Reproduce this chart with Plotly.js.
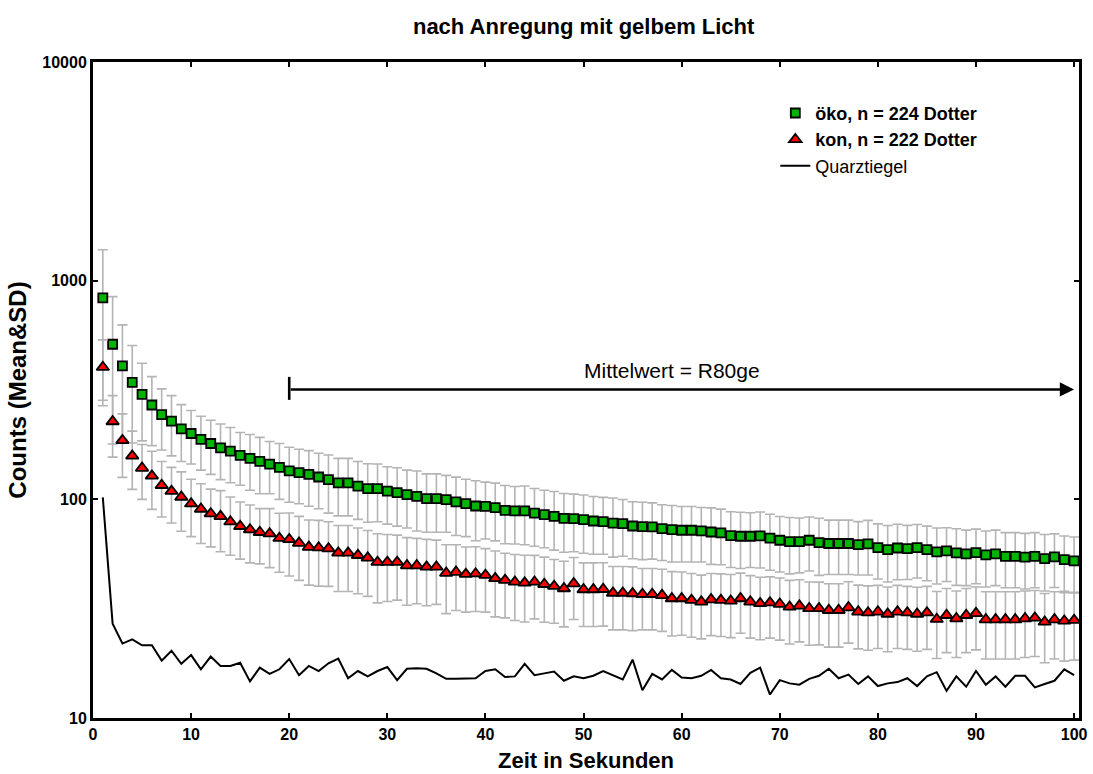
<!DOCTYPE html>
<html>
<head>
<meta charset="utf-8">
<script src="https://cdn.plot.ly/plotly-3.0.1.min.js"></script>
<style>html,body{margin:0;padding:0;background:#fff;}#chart{width:1093px;height:774px;}</style>
</head>
<body>
<div id="chart"></div>
<script>
// time points (seconds)
const zeit = Array.from({length: 100}, (_, i) => i + 1);

// öko, n = 224 Dotter: mean counts
const oekoMean = [834,512,408,343,302,270,244,228,210,200,
  188,180,172,166,159,154,149,145,140,135,
  132.5,130,126.5,123,119,119,115,112,112,109,
  107.4,105,103.2,100.7,100.7,99.7,97.3,95.5,93.2,92.9,
  91.6,89.1,88.5,88.5,86.5,85.1,83.6,81.8,81.6,80.7,
  79.6,79.1,77.9,77.4,75.5,75,74.8,73.5,72.7,72.2,
  72.2,71.7,70.9,70.2,68.3,67.8,67.8,68.0,66.4,65.0,
  64.1,64.1,65.0,63.4,62.8,62.8,62.8,62.1,62.6,60.2,
  58.9,59.9,59.5,60.2,58.9,57.5,58.1,56.9,56.3,57.1,
  55.7,56.3,54.9,54.9,54.4,54.9,53.6,54.5,53.0,52.3];
// öko: SD
const oekoSD = [550,333,220,162,117,94,76,70,61,55,
  52,50,49,47,43,44,43,39,40,38,
  37,37,36,36.5,35,35,34,33.5,33,32,
  32,31,31.5,30,30,29,29,28,28.5,27,
  27,26.5,26,26.5,25.5,25,25,24.5,24,24,
  23.5,23,23.5,22.5,22,22,21.5,21,21,20.5,
  20.5,20,20.5,20,19.5,19.5,19,19.5,19,18.5,
  18.5,18,18,18.5,17.5,17.5,17.5,17,17.5,17,
  17,17,16.5,16.5,16.5,16.5,16,16.5,16,16,
  16,16,15.5,15.5,15.5,15.5,15.5,15,15,15];

// kon, n = 222 Dotter: mean counts
const konMean = [402,227,186,158,139,128,116,109,102.5,95.5,
  90.3,86,83.6,79,75.3,72.7,70.7,69.7,66.4,65.6,
  63.1,60.5,60.1,59.5,56.9,56.9,55.5,54,51.6,51.6,
  51.6,49.8,49.8,49.1,49.1,46,46.5,45.5,45.7,45,
  43.5,42.7,41.9,41.5,41.9,40.9,40.1,39.1,41.2,38.7,
  38.7,38.8,37.3,37.3,37.1,36.8,36.8,36.4,35.2,35.2,
  34.6,34.0,34.8,34.6,34.3,35.2,34.0,33.4,33.7,33.2,
  32.2,32.6,31.7,31.7,31.1,31.1,32.0,30.6,30.3,30.6,
  29.9,30.6,30.3,29.9,30.3,28.3,29.5,28.5,29.5,30.1,
  28.2,28.2,28.2,28.2,28.5,28.7,27.5,28.2,27.8,28.0];
// kon: SD
const konSD = [134,71,60,47,39,38,33,31,31,28,
  27.5,25.4,26,23.5,22,21.5,20,21,20,21,
  20.5,20,20,19.5,19,19,18.5,18,18,17.5,
  17,17,16.5,16.5,16,16,15.5,15,15,14.5,
  14.5,14,14,14,13.5,13.5,13,13,13,12.5,
  12.5,12.5,12,12,12,11.5,11.5,11.5,11.5,11.3,
  11.2,11,11,11,11,10.8,10.8,10.6,10.5,10.5,
  10.4,10.3,10.2,10.1,10,10,10,9.9,9.9,9.8,
  9.8,9.8,9.7,9.7,9.7,9.6,9.6,9.6,9.6,9.6,
  9.6,9.6,9.6,9.6,9.6,9.6,9.6,9.6,9.6,9.6];

// Quarztiegel (empty crucible) counts
const quarz = [102,27,21.9,22.9,21.5,21.5,18.3,20.3,17.7,19.4,
  16.7,19.1,17.3,17.3,17.9,14.7,17.0,15.9,16.7,18.6,
  15.7,17.3,16.4,17.8,18.7,15.2,16.4,15.5,16.4,17.1,
  14.9,16.8,16.9,16.8,16.0,15.1,15.1,15.1,15.2,16.4,
  16.7,15.4,15.5,17.7,15.7,16.0,16.3,14.8,15.5,15.2,
  15.6,16.4,15.7,15.0,18.5,13.4,15.9,15.0,16.6,15.3,
  15.2,15.6,16.6,15.2,15.0,14.3,16.1,17.0,12.8,14.9,
  14.4,14.2,15.1,15.6,16.8,15.2,15.8,14.3,15.5,14.0,
  14.4,14.6,15.2,14.0,15.5,16.2,13.3,15.5,13.9,16.4,
  14.2,15.5,13.9,15.6,15.6,13.8,14.3,14.8,16.7,15.7];

const xTicks = [0,10,20,30,40,50,60,70,80,90,100];
const yTicks = [10,100,1000,10000];
const yTickText = ['10','100','1000','10000'];

const names = ['<b>öko, n = 224 Dotter</b>', '<b>kon, n = 222 Dotter</b>', 'Quarztiegel'];

const FONT = 'Arial, "Liberation Sans", Helvetica, sans-serif';
const errStyle = {type: 'data', visible: true, color: '#b4b4b4', thickness: 1.6, width: 5};

const traces = [
  {
    x: zeit, y: oekoMean, name: names[0], type: 'scatter', mode: 'markers',
    error_y: Object.assign({array: oekoSD}, errStyle),
    marker: {symbol: 'square', size: 9, color: '#00b400', line: {color: '#000', width: 1.8}}
  },
  {
    x: zeit, y: konMean, name: names[1], type: 'scatter', mode: 'markers',
    error_y: Object.assign({array: konSD}, errStyle),
    marker: {symbol: 'triangle-up', size: 11, color: '#ff0000', line: {color: '#000', width: 1.8}}
  },
  {
    x: zeit, y: quarz, name: names[2], type: 'scatter', mode: 'lines',
    line: {color: '#000', width: 2}
  }
];

const arrowY = Math.log10(318);

const layout = {
  width: 1093, height: 774,
  margin: {l: 93, r: 14, t: 62, b: 56},
  paper_bgcolor: '#fff', plot_bgcolor: '#fff',
  font: {family: FONT, color: '#000'},
  title: {
    text: 'nach Anregung mit gelbem Licht',
    font: {family: FONT, size: 22, weight: 'bold', color: '#000'},
    x: 0.534, xanchor: 'center', y: 0.966, yanchor: 'middle', xref: 'container', yref: 'container'
  },
  showlegend: true,
  legend: {
    x: 0.692, y: 0.95, xanchor: 'left', yanchor: 'top',
    bgcolor: 'rgba(0,0,0,0)', borderwidth: 0,
    font: {family: FONT, size: 18, color: '#000'},
    tracegroupgap: 0
  },
  xaxis: {
    type: 'linear', range: [0, 100.5],
    tickvals: xTicks, ticktext: xTicks.map(String),
    ticks: 'inside', ticklen: 5, tickwidth: 2, tickcolor: '#000',
    showline: true, linecolor: '#000', linewidth: 3, mirror: 'ticks',
    showgrid: false, zeroline: false,
    tickfont: {family: FONT, size: 16, weight: 'bold', color: '#000'},
    title: {text: 'Zeit in Sekunden', font: {family: FONT, size: 22, weight: 'bold', color: '#000'}, standoff: 11},
    automargin: false
  },
  yaxis: {
    type: 'log', range: [1, 4],
    tickvals: yTicks, ticktext: yTickText,
    ticks: 'inside', ticklen: 5, tickwidth: 2, tickcolor: '#000',
    showline: true, linecolor: '#000', linewidth: 3, mirror: 'ticks',
    showgrid: false, zeroline: false,
    tickfont: {family: FONT, size: 16, weight: 'bold', color: '#000'},
    title: {text: 'Counts (Mean&amp;SD)', font: {family: FONT, size: 24, weight: 'bold', color: '#000'}, standoff: 9},
    automargin: false
  },
  annotations: [
    {
      x: 100, y: arrowY, xref: 'x', yref: 'y',
      ax: 20, ay: arrowY, axref: 'x', ayref: 'y',
      text: '', showarrow: true, arrowhead: 2, arrowsize: 1.1, arrowwidth: 2.6, arrowcolor: '#000', standoff: 0, startstandoff: 0
    },
    {
      x: 59, y: 0.53, xref: 'x', yref: 'paper',
      text: 'Mittelwert = R80ge', showarrow: false,
      font: {family: FONT, size: 21, color: '#000'}, xanchor: 'center', yanchor: 'middle'
    }
  ],
  shapes: [
    {type: 'line', xref: 'x', yref: 'paper', x0: 20, x1: 20, y0: 0.485, y1: 0.520, line: {color: '#000', width: 2.6}}
  ]
};

Plotly.newPlot('chart', traces, layout, {displayModeBar: false, staticPlot: true});
</script>
</body>
</html>
